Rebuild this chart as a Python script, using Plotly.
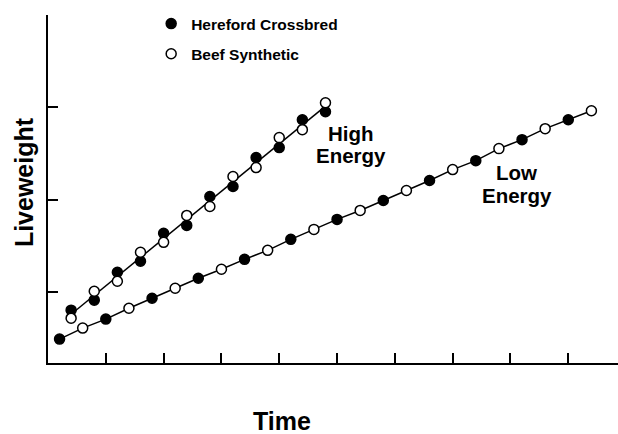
import numpy as np
import plotly.graph_objects as go

# ---- data (arbitrary units) ----
high_time = [0.4, 0.8, 1.2, 1.6, 2.0, 2.4, 2.8, 3.2, 3.6, 4.0, 4.4, 4.8]
high_hereford = [80.6, 91.4, 121.6, 133.5, 163.7, 172.3, 203.6, 214.4, 245.7, 256.5, 286.7, 295.3]
high_synthetic = [71.9, 101.1, 111.9, 143.2, 154.0, 183.1, 192.8, 225.2, 234.9, 267.3, 275.9, 305.0]

low_time_hereford = [0.2, 1.0, 1.8, 2.6, 3.4, 4.2, 5.0, 5.8, 6.6, 7.4, 8.2, 9.0]
low_hereford = [49.3, 70.9, 93.5, 115.1, 135.6, 157.2, 178.8, 199.3, 220.9, 242.4, 265.1, 286.7]
low_time_synthetic = [0.6, 1.4, 2.2, 3.0, 3.8, 4.6, 5.4, 6.2, 7.0, 7.8, 8.6, 9.4]
low_synthetic = [61.2, 82.7, 104.3, 124.8, 145.3, 168.0, 188.5, 210.1, 232.7, 255.4, 277.0, 296.4]

x_ticks = [1, 2, 3, 4, 5, 6, 7, 8, 9]
y_ticks = [100, 200, 300, 400]

FONT = "Liberation Sans, Arial, Helvetica, sans-serif"

# fitted line for the high-energy group
hx = np.array(high_time + high_time)
hy = np.array(high_hereford + high_synthetic)
coef = np.polyfit(hx, hy, 1)
high_line = np.polyval(coef, np.array(high_time))

# low-energy line through all points in time order
low_t = np.array(low_time_hereford + low_time_synthetic)
low_v = np.array(low_hereford + low_synthetic)
order = np.argsort(low_t)

fig = go.Figure()
fig.add_trace(go.Scatter(x=high_time, y=high_line, mode="lines",
                         line=dict(color="black", width=1.5), showlegend=False, hoverinfo="skip"))
fig.add_trace(go.Scatter(x=low_t[order], y=low_v[order], mode="lines",
                         line=dict(color="black", width=1.5), showlegend=False, hoverinfo="skip"))
fig.add_trace(go.Scatter(x=high_time + low_time_hereford, y=high_hereford + low_hereford,
                         mode="markers", name="Hereford Crossbred", legendgroup="a",
                         marker=dict(size=10, color="black", line=dict(color="black", width=1.5))))
fig.add_trace(go.Scatter(x=high_time + low_time_synthetic, y=high_synthetic + low_synthetic,
                         mode="markers", name="Beef Synthetic", legendgroup="b",
                         marker=dict(size=10, color="white", line=dict(color="black", width=1.5))))

fig.update_layout(
    width=618, height=434,
    margin=dict(l=48, r=0, t=15, b=71),
    paper_bgcolor="white", plot_bgcolor="white",
    font=dict(family=FONT, color="black"),
    legend=dict(x=0.181, y=1.023, xanchor="left", yanchor="top",
                font=dict(size=15.5, family=FONT, color="black", weight="bold"),
                tracegroupgap=7, bgcolor="rgba(0,0,0,0)", itemwidth=30),
    xaxis=dict(range=[0, 9.86], tickvals=x_ticks, showticklabels=False,
               ticks="inside", ticklen=10, tickwidth=1.5, tickcolor="black",
               showline=True, linewidth=2, linecolor="black", showgrid=False, zeroline=False),
    yaxis=dict(range=[23.4, 400], tickvals=y_ticks, showticklabels=False,
               ticks="inside", ticklen=10, tickwidth=1.5, tickcolor="black",
               showline=True, linewidth=2, linecolor="black", showgrid=False, zeroline=False),
    annotations=[
        dict(text="<b>Liveweight</b>", textangle=-90, x=-0.042, y=0.52, xref="paper", yref="paper",
             xanchor="center", yanchor="middle", showarrow=False, font=dict(size=25, family=FONT)),
        dict(text="<b>Time</b>", x=0.4105, y=-0.1667, xref="paper", yref="paper",
             xanchor="center", yanchor="middle", showarrow=False, font=dict(size=25, family=FONT)),
        dict(text="<b>High</b>", x=5.24, y=271.6, showarrow=False, font=dict(size=20.5, family=FONT),
             xanchor="center", yanchor="middle"),
        dict(text="<b>Energy</b>", x=5.24, y=247.8, showarrow=False, font=dict(size=20.5, family=FONT),
             xanchor="center", yanchor="middle"),
        dict(text="<b>Low</b>", x=8.11, y=230, showarrow=False, font=dict(size=20.5, family=FONT),
             xanchor="center", yanchor="middle"),
        dict(text="<b>Energy</b>", x=8.11, y=205.2, showarrow=False, font=dict(size=20.5, family=FONT),
             xanchor="center", yanchor="middle"),
    ],
)

fig.write_html("out.html", config={"displayModeBar": False},
               post_script="document.body.style.margin='0';document.body.style.overflow='hidden';")
